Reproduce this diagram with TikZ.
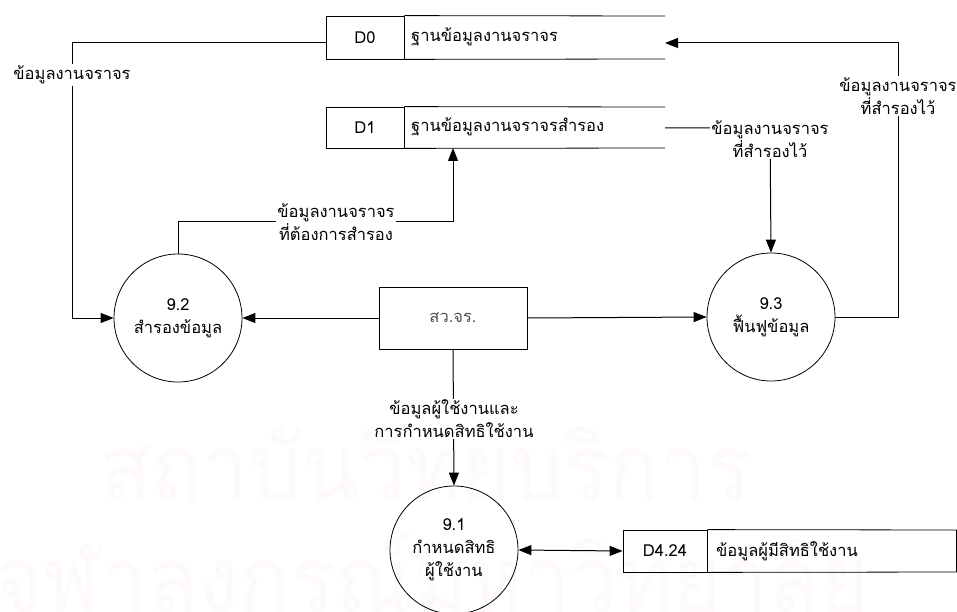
\documentclass[tikz,border=0pt]{standalone}
\usepackage{fontspec}
\newfontfamily\thai[Script=Thai]{Loma}
\usetikzlibrary{arrows.meta}
\definecolor{wmark}{RGB}{254,249,251}
\definecolor{softgray}{RGB}{80,80,80}
\begin{document}
\begin{tikzpicture}[x=1pt,y=-1pt,
  txt/.style={font=\thai\fontsize{16.5}{23}\selectfont},
  flow/.style={draw=black, line width=1pt},
  tip/.style={-{Triangle[length=13pt,width=10pt]}},
  bitip/.style={{Triangle[length=13pt,width=10pt]}-{Triangle[length=13pt,width=10pt]}},
  proc/.style={txt, circle, draw, line width=0.8pt, minimum size=128pt, inner sep=0pt, align=center},
  storeid/.style={txt, rectangle, draw, line width=0.8pt, minimum height=43pt, inner sep=0pt},
  storename/.style={txt, anchor=west, inner sep=0pt},
  lbl/.style={txt, fill=white, align=center, inner sep=1.5pt},
  wm/.style={text=wmark, font=\thai\fontsize{92}{92}\selectfont, inner sep=0pt, anchor=base west, xscale=0.91}
  ]
\useasboundingbox (0,0) rectangle (957,612);

% faint background lettering
\node[wm] (wm1) at (100,500) {สถาบันวิทยบริการ};
\node[wm] (wm2) at (-6,612) {จุฬาลงกรณ์มหาวิทยาลัย};

% data stores
\node[storeid, minimum width=78pt] (d0) at (365,37.5) {D0};
\draw[line width=0.8pt] (d0.north east) -- (665,16) (d0.south east) -- (665,59);
\node[storename] (d0n) at (411,37) {ฐานข้อมูลงานจราจร};
\coordinate (d0end) at (665,43);

\node[storeid, minimum width=78pt, minimum height=41pt] (d1) at (365,127.5) {D1};
\draw[line width=0.8pt] (d1.north east) -- (665,107) (d1.south east) -- (665,148);
\node[storename] (d1n) at (411,127) {ฐานข้อมูลงานจราจรสำรอง};
\coordinate (d1end) at (665,128);
\coordinate (d1in) at (453,148);

\node[storeid, minimum width=84pt, minimum height=42pt] (d4) at (665,551) {D4.24};
\draw[line width=0.8pt] (d4.north east) -- (956.5,530) -- (956.5,572) -- (d4.south east);
\node[storename] (d4n) at (716,551) {ข้อมูลผู้มีสิทธิใช้งาน};

% external entity
\node[txt, rectangle, draw, line width=0.8pt, minimum width=148pt, minimum height=62pt, text=softgray] (sv) at (453,318) {สว.จร.};

% processes
\node[proc] (p92) at (178,318) {9.2\\สำรองข้อมูล};
\node[proc] (p93) at (771,317) {9.3\\ฟื้นฟูข้อมูล};
\node[proc] (p91) at (454,550) {9.1\\กำหนดสิทธิ\\ผู้ใช้งาน};

% data flows
\draw[flow, tip] ([yshift=-5.5pt]d0.west) -- (72,43) -- (72,318) -- (p92.west);
\draw[flow, tip] (p93.east) -- (898,317) -- (898,43) -- (d0end);
\draw[flow, tip] (d1end) -- (770,128) -- (p93.north);
\draw[flow, tip] (p92.north) -- (178,222) -- (453,222) -- (d1in);
\draw[flow, tip] (sv.west) -- (p92.east);
\draw[flow, tip] (sv.east) -- (p93.west);
\draw[flow, tip] (sv.south) -- (p91.north);
\draw[flow, bitip] (p91.east) -- (d4.west);

% flow labels
\node[lbl] (l1) at (72,75) {ข้อมูลงานจราจร};
\node[lbl] (l2) at (898,96) {ข้อมูลงานจราจร\\ที่สำรองไว้};
\node[lbl] (l3) at (770,139) {ข้อมูลงานจราจร\\ที่สำรองไว้};
\node[lbl] (l4) at (336,222) {ข้อมูลงานจราจร\\ที่ต้องการสำรอง};
\node[lbl] (l5) at (454,419) {ข้อมูลผู้ใช้งานและ\\การกำหนดสิทธิใช้งาน};
\end{tikzpicture}
\end{document}
